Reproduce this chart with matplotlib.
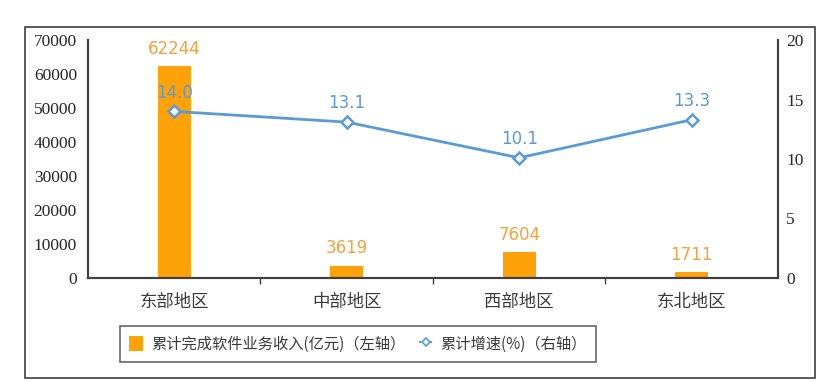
import matplotlib
matplotlib.use("Agg")
import matplotlib.pyplot as plt
from matplotlib.patches import Rectangle, Patch
from matplotlib.lines import Line2D

plt.rcParams['font.family'] = ['Noto Sans CJK SC', 'DejaVu Sans']

regions = ['东部地区', '中部地区', '西部地区', '东北地区']
income = [62244, 3619, 7604, 1711]       # 亿元
growth = [14.0, 13.1, 10.1, 13.3]        # %
left_ticks = [0, 10000, 20000, 30000, 40000, 50000, 60000, 70000]
right_ticks = [0, 5, 10, 15, 20]

bar_color = '#FFA20A'
bar_label_color = '#F7A13C'
line_color = '#5B9BD5'
axis_color = '#404040'

fig = plt.figure(figsize=(8.29, 3.82), dpi=100)
ax = fig.add_axes([88/829, 1-278/382, (778-88)/829, (278-40)/382])
ax2 = ax.twinx()

x = list(range(len(regions)))
ax.bar(x, income, width=0.19, color=bar_color, zorder=2)
for xi, v in zip(x, income):
    ax.annotate(str(v), (xi, v), xytext=(0, 6), textcoords='offset points',
                ha='center', va='bottom', fontsize=12, color=bar_label_color,
                family='DejaVu Sans')

ax2.plot(x, growth, color=line_color, lw=2, marker='D', ms=6,
         mfc='white', mec=line_color, mew=1.8, zorder=3)
for xi, v in zip(x, growth):
    ax2.annotate(f'{v:.1f}', (xi, v), xytext=(0, 7), textcoords='offset points',
                 ha='center', va='bottom', fontsize=12, color=line_color,
                 family='DejaVu Sans')

ax.set_xlim(-0.5, 3.5)
ax.set_ylim(0, 70000)
ax2.set_ylim(0, 20)
ax.set_yticks(left_ticks)
ax2.set_yticks(right_ticks)
ax.set_xticks(x)
ax.set_xticklabels(regions, fontsize=12.5, color='#3a3a3a')
ax.set_xticks([0.5, 1.5, 2.5], minor=True)
ax.tick_params(axis='x', which='major', length=0, pad=11)
ax.tick_params(axis='x', which='minor', length=4, width=1, color=axis_color, direction='out')
ax.tick_params(axis='y', length=0, pad=8)
ax2.tick_params(axis='y', length=0, pad=6)
for lab in ax.get_yticklabels() + ax2.get_yticklabels():
    lab.set_family('Liberation Serif')
    lab.set_fontsize(12.5)
    lab.set_color('#262626')

for a in (ax, ax2):
    a.spines['top'].set_visible(False)
    for s in ('left', 'right', 'bottom'):
        a.spines[s].set_color(axis_color)
        a.spines[s].set_linewidth(1.5)

handles = [Patch(facecolor=bar_color, edgecolor='none'),
           Line2D([], [], color=line_color, lw=1.5, ls=':', marker='D', ms=4,
                  mfc='white', mec=line_color, mew=1.2)]
labels = ['累计完成软件业务收入(亿元)（左轴）', '累计增速(%)（右轴）']
leg = fig.legend(handles, labels, loc='center', bbox_to_anchor=(0.4318, 0.0995),
                 ncol=2, fontsize=11, frameon=True, fancybox=False,
                 handlelength=0.9, handleheight=1.2, columnspacing=0.9,
                 borderpad=0.6, borderaxespad=0, handletextpad=0.5)
leg.get_frame().set_edgecolor(axis_color)
leg.get_frame().set_linewidth(1.2)
for t in leg.get_texts():
    t.set_color('#3a3a3a')

fig.patches.append(Rectangle((25/829, 1-378/382), (815-25)/829, (378-27)/382,
                             transform=fig.transFigure, fill=False,
                             edgecolor='#404040', lw=1.2))

fig.savefig('out.png', dpi=100)
